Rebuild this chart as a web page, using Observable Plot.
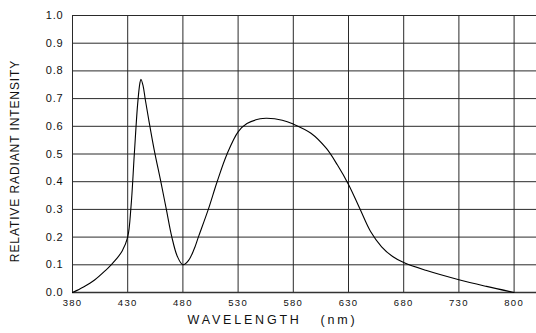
<!DOCTYPE html>
<html><head><meta charset="utf-8">
<script src="https://cdn.jsdelivr.net/npm/d3@7"></script>
<script src="https://cdn.jsdelivr.net/npm/@observablehq/plot@0.6"></script>
<style>
body{margin:0;background:#fff}
svg{font-family:"Liberation Sans",Arial,sans-serif}
</style>
</head><body><div id="chart"></div>
<script>
const wavelength = [380,390,400,410,415,420,425,430,433,436,439,441,442,444,446,449,454,460,465,470,475,480,485,490,494,503,511,520,530,538,550,556,570,580,596,610,620,630,640,650,660,670,680,700,730,765,800];
const intensity  = [0,0.02,0.045,0.08,0.1,0.122,0.15,0.2,0.31,0.5,0.68,0.755,0.77,0.745,0.695,0.625,0.515,0.4,0.3,0.2,0.13,0.1,0.115,0.155,0.2,0.3,0.4,0.5,0.58,0.61,0.627,0.629,0.622,0.608,0.575,0.52,0.46,0.39,0.305,0.22,0.165,0.13,0.108,0.08,0.046,0.022,0];
const xTicks = [380,430,480,530,580,630,680,730,800];
const yTicks = [0,0.1,0.2,0.3,0.4,0.5,0.6,0.7,0.8,0.9,1.0];
const xTitle = "WAVELENGTH\u00a0\u00a0\u00a0(nm)";
const yTitle = "RELATIVE RADIANT INTENSITY";

const data = wavelength.map((w, i) => ({w, v: intensity[i]}));
const left = 72, step = 55.2;

const chart = Plot.plot({
  width: 536, height: 333,
  marginLeft: 72, marginRight: 0, marginTop: 15, marginBottom: 41,
  style: {fontFamily: '"Liberation Sans", Arial, sans-serif', background: "white", color: "#111"},
  x: {type: "linear", domain: [380, 730, 800], range: [left, left + 7 * step, left + 8 * step]},
  y: {domain: [0, 1]},
  marks: [
    Plot.gridY(yTicks, {stroke: "#2a2a2a", strokeOpacity: 1, strokeWidth: 1}),
    Plot.ruleX(xTicks, {y1: 0, y2: 1, stroke: "#2a2a2a", strokeWidth: 1}),
    Plot.ruleY([0], {stroke: "#333", strokeWidth: 1.3}),
    Plot.axisY(yTicks, {tickSize: 0, tickPadding: 9, tickFormat: d => d.toFixed(1), fontSize: 11, label: null}),
    Plot.axisX(xTicks, {tickSize: 0, tickPadding: 7, tickFormat: d => String(d), fontSize: 9.5, label: null}),
    Plot.line(data, {x: "w", y: "v", curve: "catmull-rom", stroke: "#000", strokeWidth: 1.1}),
    Plot.text([xTitle], {frameAnchor: "bottom", dx: -32, dy: 31, fontSize: 12.5, fill: "#111"}),
    Plot.text([yTitle], {frameAnchor: "left", textAnchor: "middle", rotate: -90, dx: -57, dy: 7, fontSize: 12, fill: "#111"})
  ]
});
d3.select(chart).selectAll("text").each(function () {
  const t = this.textContent;
  let ls = null;
  if (t === xTitle) ls = "2.8px";
  else if (t === yTitle) ls = "0.9px";
  else if (xTicks.map(String).includes(t)) ls = "1.3px";
  else if (yTicks.map(d => d.toFixed(1)).includes(t)) ls = "0.8px";
  if (ls) this.style.letterSpacing = ls;
});
document.getElementById("chart").appendChild(chart);
</script>
</body></html>
